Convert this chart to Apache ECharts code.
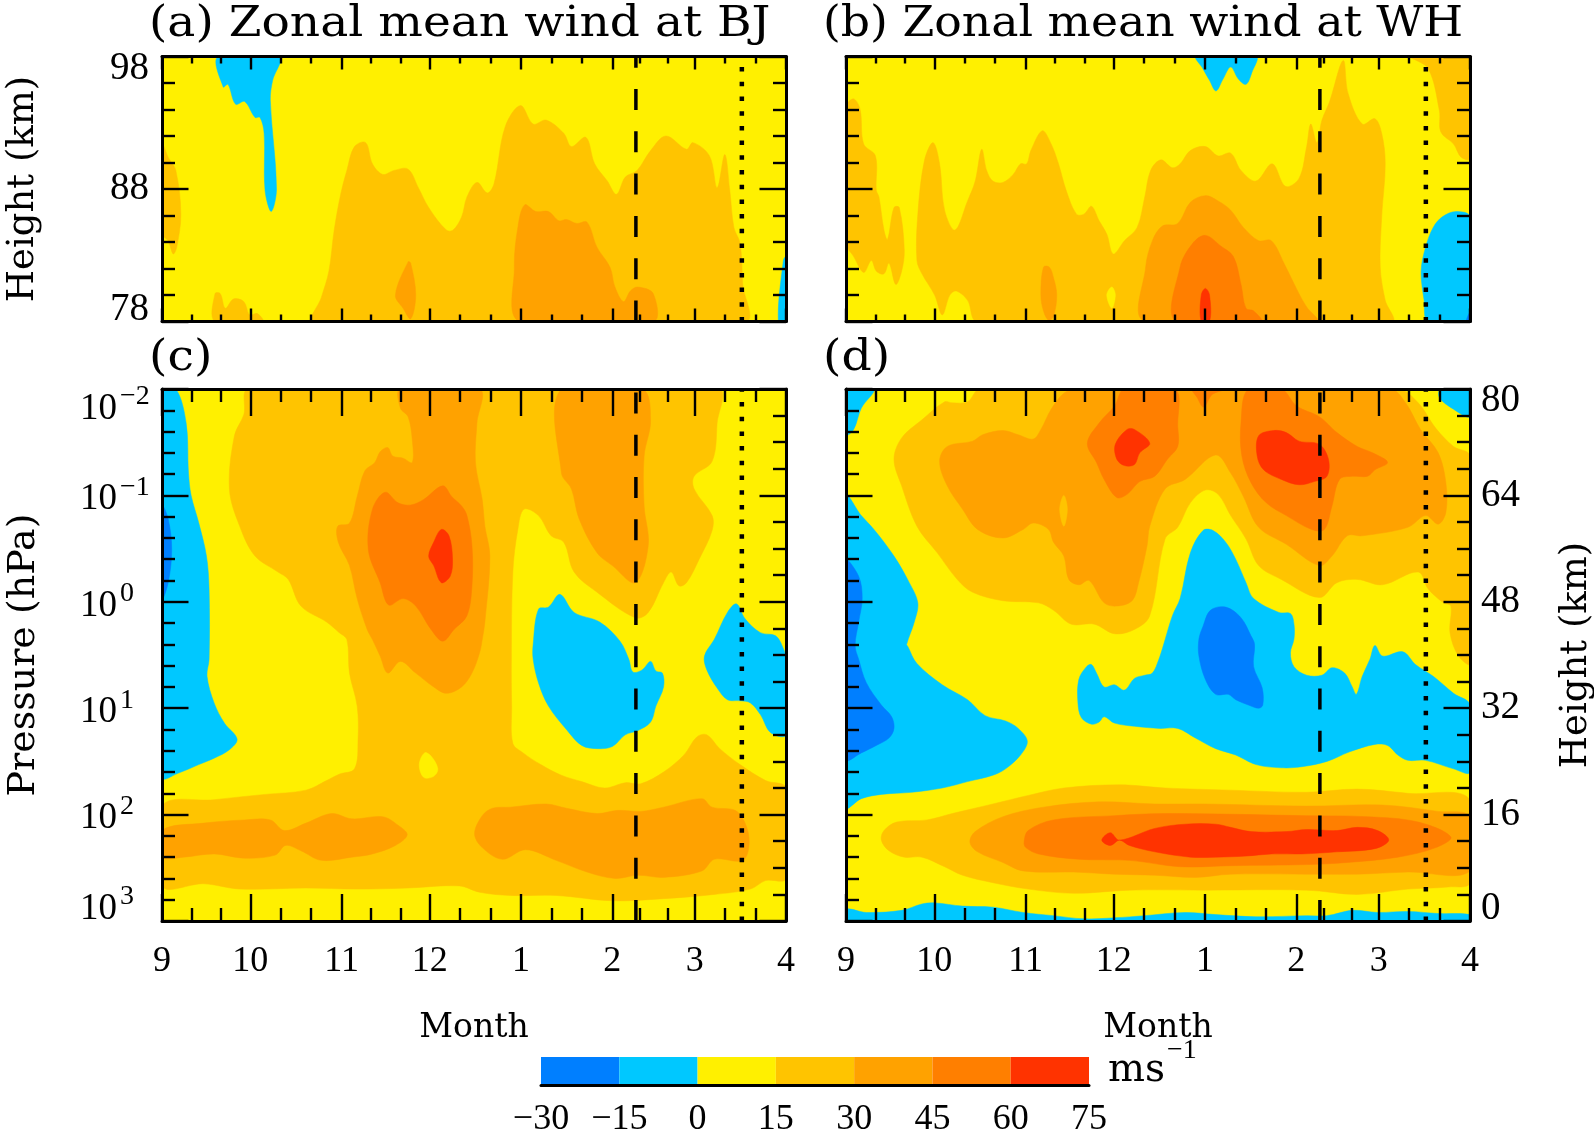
<!DOCTYPE html>
<html><head><meta charset="utf-8">
<script src="https://cdn.jsdelivr.net/npm/echarts@6/dist/echarts.min.js"></script>
<style>html,body{margin:0;padding:0;background:#fff}#chart{width:1594px;height:1132px}</style>
</head><body><div id="chart"></div>
<script>
// ---- scales -------------------------------------------------------------
const monthStartDays = [0,30,61,91,122,153,181,212];
const monthLabels = ['9','10','11','12','1','2','3','4'];
const monthThirdDays = [10,20,40.3,50.7,71,81,101.3,111.7,132.3,142.7,162.3,171.7,191.3,201.7];
const upperHeightMajor = [78,88,98];
const upperHeightMinor = [80,82,84,86,90,92,94,96];
const logPressureMajor = [-2,-1,0,1,2,3];
const logPressureMinor = [-1.8,-1.6,-1.4,-1.2,-0.8,-0.6,-0.4,-0.2,0.2,0.4,0.6,0.8,1.2,1.4,1.6,1.8,2.2,2.4,2.6,2.8];
const lowerHeightMajor = [0,16,32,48,64,80];
const lowerHeightMinor = [4,8,12,20,24,28,36,40,44,52,56,60,68,72,76];
const windLevels = [-30,-15,0,15,30,45,60,75];
const windColors = ['#007FFF','#00C8FF','#FFF000','#FFC400','#FFA200','#FF7F00','#FF3300'];
const dashedDay = 161;
const dottedDay = 197;

// ---- contour outlines of wind bands: [day since 1 Sep, height km] --------
const aBlueTop = [[19.1,98],[20.8,95.7],[22.4,95.9],[25,94.4],[28.1,94.6],[31.6,93.4],[33.3,93.4],[34.7,92.2],[35,87.9],[37.1,86.3],[38.9,88],[36.8,94.7],[37.6,96.2],[39.9,98]];
const aEdge = [[0,91.4],[2.1,90.4],[4.7,89.4],[6.4,86.1],[5,83.6],[3.8,83.1],[2.1,84.1],[0,84.6]];
const aLow = [[18,78],[18,80.1],[19.8,80.1],[21.5,79],[24.3,79.7],[27.8,79.5],[29.8,78.5],[32.4,78.6],[34.2,78]];
const aMain = [[51.5,78],[54.1,79.8],[56.7,81.8],[58.5,84.9],[60.7,87.6],[62.8,89.4],[65.4,91.2],[69.2,91.5],[71.5,89.9],[75,89.1],[78.8,89.4],[83.6,89.5],[87.1,88.1],[90.6,86.6],[96.6,84.9],[98.9,84.9],[101.8,85.9],[103.6,87.4],[107,88.5],[110.5,87.7],[112.8,88.4],[116.6,92.7],[121.8,94.3],[126.1,92.9],[130.5,93.2],[136.5,92.2],[139.1,91.2],[144,91.9],[147,89.9],[151.3,88.6],[154.4,87.6],[157.4,88.9],[161.4,89.4],[166,90.9],[171.2,92],[178.2,91],[180.4,91.5],[186,90.5],[188.6,88.1],[191.2,90.6],[192.9,87.9],[194.3,85.1],[196.4,83.9],[197.3,80.8],[198.1,78]];
const aCore = [[121.5,78],[119.7,82.1],[120.9,85.1],[123.2,86.8],[127,86.3],[131.3,86.3],[134.8,85.6],[137.4,85.7],[140.9,85.4],[144.4,85.5],[147.8,83.6],[152.2,82.1],[153.9,80.6],[156.8,79.5],[159.1,80.3],[161.7,80.6],[166.9,80.1],[166.9,78]];
const aSpot = [[79.3,80],[83.6,82.5],[84.5,82.4],[86.2,80],[84.5,78.2],[81.9,79]];
const aBlueEnd = [[209.4,78],[211.1,82.6],[212,82.9],[212,78]];
const panelA = [[22,aEdge],[22,aLow],[22,aMain],[37,aCore],[37,aSpot],[-7,aBlueTop],[-7,aBlueEnd]];

const bEdge = [[0,94.2],[2.6,94.8],[4.8,94],[6,91.4],[10,90.5],[10.3,87.9],[11.2,87.4],[12.9,84.9],[14.1,84.2],[16.3,86.6],[18.1,86.6],[19.8,83.4],[18.9,81.8],[16.9,80.8],[14.6,82.4],[12.9,81.6],[10.3,81.8],[8.6,82.6],[6,81.7],[2.6,82.9],[0,83.9]];
const bMain = [[44.7,78],[41.3,79.6],[37.5,80.3],[35.3,80],[32.7,78.5],[30.1,80],[25.8,81.6],[24.1,82.6],[24.4,86.1],[26.7,90.2],[29.6,91.5],[31.8,89.9],[33.5,86.4],[37,84.9],[41.3,87.1],[43.9,88.6],[46.1,91],[47.8,89.4],[49.9,88.6],[53.3,88.5],[56.8,89.1],[59.3,89.9],[61.4,89.9],[62.8,90.9],[66.7,92.4],[69.7,91.4],[72.2,89.9],[74.8,87.9],[78.3,86.1],[80.8,86.1],[83.4,86.7],[86,85.6],[88.6,84.6],[90.8,83.1],[94.6,84.1],[98.9,85.1],[101.5,87.4],[103.5,89.4],[107,90.2],[110.9,89.6],[113.5,89.9],[117,90.9],[122.1,91.2],[126.4,90.5],[130.7,90.7],[134.2,89.4],[139.3,88.6],[144.8,89.9],[149.3,88.2],[153.9,88.8],[156.5,91.2],[157.9,92.9],[160,91.5],[161.7,93.2],[164.3,94.6],[168.9,97.7],[170.6,95.2],[175.4,92.9],[179.7,93.3],[182,92.2],[183.2,89.9],[182,85.9],[181.5,82.1],[183.2,79.6],[185.4,78]];
const bIsle = [[90.3,80.6],[91.5,80],[90.3,79],[88.6,80]];
const bSpot = [[66.2,80],[67.1,82.1],[69.1,82.1],[70.5,81.3],[71.6,80],[70.5,78.4],[68.8,78.1],[67.1,78.8]];
const bCore37 = [[101.5,78],[101.8,82.1],[104.1,84.1],[107.5,85.2],[112.7,85.4],[117,87],[122.1,87.5],[126.4,87.1],[130.7,86.4],[135,85.1],[140.2,84.1],[144.5,84.1],[148.8,82.4],[153.9,80.1],[156.5,79.1],[160,78]];
const bCore52 = [[112.1,78],[113.5,82.1],[117.8,83.9],[122.1,84.5],[127.3,83.7],[131.6,82.9],[134.2,80.8],[135.9,79],[138.5,78.8],[141,78]];
const bCore67 = [[120.7,78],[120.7,80],[122.1,80.5],[123.5,80],[123.5,78]];
const bTopRight = [[191.8,98],[197.8,97.1],[201.6,93.9],[202.1,92.3],[206.4,91.4],[209,90.4],[212,90.3],[212,98]];
const bBlueTop = [[119,98],[121.2,97.1],[123.5,96.2],[125.7,95.4],[128.1,96.3],[130.7,97.2],[133.3,96.3],[135.9,95.9],[137.9,96.8],[139.3,98]];
const bBlueRight = [[197.8,78],[196.4,79.6],[195.4,81.8],[196.9,83.6],[199.5,85.1],[202.6,85.9],[207.3,86.3],[212,85.9],[212,78]];
const bDeepEnd = [[210.7,78],[212,78.7],[212,78]];
const panelB = [[22,bEdge],[22,bMain],[7,bIsle],[22,bTopRight],[37,bSpot],[37,bCore37],[52,bCore52],[67,bCore67],[-7,bBlueTop],[-7,bBlueRight],[-22,bDeepEnd]];

// ---- [day since 1 Sep, log10 pressure hPa] -------------------------------
const cBlueLeft = [[4.7,-2],[8.2,-1.68],[9,-1.21],[9.9,-1],[12.5,-0.74],[15.1,-0.43],[16,-0.11],[16,0.54],[15.3,0.7],[17.7,0.95],[21.2,1.14],[25.5,1.29],[22.9,1.39],[17.7,1.47],[12.5,1.53],[5.6,1.61],[0,1.65],[0,-2]];
const cDeepLeft = [[0,-0.9],[2.1,-0.78],[3.3,-0.49],[2.1,-0.18],[0,-0.03]];
const cBand22 = [[29.5,-2],[188.9,-2],[188.6,-1.68],[186.9,-1.32],[180.8,-1.18],[180.8,-1.06],[186.9,-0.81],[186.9,-0.67],[182.5,-0.4],[178.2,-0.18],[175.6,-0.15],[173,-0.28],[170.4,-0.18],[165.2,0.1],[160.8,0.15],[147.8,-0.09],[140,-0.28],[136.5,-0.56],[132.2,-0.62],[127.9,-0.81],[123,-0.87],[120.9,-0.68],[119.2,-0.28],[118.7,0.54],[118.8,0.98],[119.2,1.33],[122.7,1.42],[128.7,1.53],[135.7,1.63],[142.6,1.69],[150.4,1.75],[157.4,1.7],[162.6,1.71],[170.4,1.6],[177.3,1.44],[181.7,1.27],[185.1,1.25],[189.5,1.38],[196.4,1.53],[205.1,1.68],[212,1.75],[212,2.6],[205.1,2.62],[199.9,2.7],[187.7,2.75],[170.4,2.79],[153,2.81],[133.9,2.76],[118.3,2.76],[107.9,2.73],[101,2.67],[83.6,2.69],[66.3,2.7],[48.9,2.69],[26.4,2.7],[14.2,2.65],[0,2.67],[0,1.92],[17.7,1.86],[35,1.81],[48.9,1.77],[55.9,1.68],[60.2,1.62],[65.4,1.57],[66.6,1.3],[66.3,0.98],[63.7,0.67],[62.8,0.355],[60.2,0.29],[55.9,0.19],[47.2,0.04],[42.9,-0.21],[39.4,-0.28],[31.6,-0.43],[26.4,-0.71],[22.9,-1.06],[24.6,-1.56],[27.8,-1.76]];
const cIsle = [[87.4,1.53],[89.2,1.42],[91.4,1.45],[93.7,1.57],[92.3,1.64],[88.9,1.65]];
const cBlueMid = [[126.1,0.4],[127.9,0.07],[131.3,0.05],[135.2,-0.07],[140,0.1],[148.7,0.19],[155.6,0.37],[158.6,0.54],[160,0.66],[163.1,0.64],[166,0.56],[167.8,0.65],[170,0.67],[170.4,0.8],[167.8,0.98],[166,1.13],[161.7,1.21],[157.4,1.25],[153,1.36],[147.8,1.38],[142.6,1.35],[137.4,1.2],[131.3,0.98],[127.9,0.76],[126.1,0.54]];
const cBlueRight = [[184.3,0.51],[187.7,0.35],[192.1,0.1],[195.2,0.02],[198.1,0.16],[203.3,0.29],[208.5,0.32],[211.1,0.44],[212,0.54],[212,1.25],[206.8,1.23],[203.3,1.06],[199.9,0.95],[196.4,0.93],[192.1,0.92],[188.6,0.81],[185.1,0.64]];
const cMid37 = [[81,-2],[81,-1.82],[83.6,-1.74],[85,-1.53],[85,-1.31],[81.9,-1.35],[78.4,-1.37],[76.7,-1.45],[74.1,-1.41],[72.3,-1.31],[68.9,-1.23],[66.3,-0.99],[63.7,-0.74],[59.7,-0.71],[59.9,-0.56],[63.7,-0.34],[66.3,-0.03],[69.7,0.26],[71.5,0.355],[74.1,0.51],[76.7,0.67],[81,0.56],[86.2,0.67],[92.3,0.8],[96.6,0.86],[101.8,0.8],[105.3,0.67],[107.9,0.48],[108.8,0.355],[109.7,0.19],[111.4,-0.43],[109.7,-0.71],[108.8,-0.96],[106.5,-1.31],[107,-1.68],[107.9,-2]];
const cMid52 = [[75.8,-1.03],[80.2,-0.93],[84.5,-0.91],[88.8,-0.96],[95.4,-1.09],[98.4,-0.99],[101.8,-0.9],[103.6,-0.81],[105.3,-0.53],[105.3,-0.15],[103.6,0.13],[99.2,0.26],[95.4,0.37],[91.4,0.26],[86.2,0.04],[81.9,-0.03],[77,0.03],[74.1,-0.18],[70.1,-0.49],[71.5,-0.87]];
const cMid67 = [[94.9,-0.68],[97.5,-0.62],[98.7,-0.4],[97.9,-0.24],[94.9,-0.18],[92.3,-0.34],[90.6,-0.43],[92.3,-0.56]];
const cFeb37 = [[135.7,-2],[135.7,-1.21],[139.1,-1.06],[141.7,-0.78],[147.8,-0.46],[153,-0.34],[160.8,-0.18],[165.2,-0.53],[163.8,-0.9],[163.8,-1.37],[166,-1.71],[163.1,-2]];
const cJetLeft = [[0,2.15],[14.2,2.08],[28.1,2.05],[36.8,2.05],[41.6,2.15],[48.9,2.08],[57.6,1.99],[64.5,2.04],[75,2.02],[80.2,2.1],[83.3,2.19],[79.3,2.29],[71.5,2.37],[64.5,2.4],[54.1,2.43],[47.2,2.34],[42,2.29],[38.5,2.38],[28.1,2.41],[17.7,2.37],[7.3,2.4],[0,2.4]];
const cJetRight = [[106.2,2.18],[108.8,2.01],[112.3,1.94],[118.3,1.93],[130.5,1.9],[137.4,1.94],[147.8,1.99],[154.8,1.96],[162.6,1.97],[170.4,1.93],[183.4,1.85],[186.9,1.93],[194.7,1.96],[198.1,2.08],[199.5,2.27],[197.3,2.43],[187.7,2.42],[183.4,2.53],[170.4,2.59],[161.7,2.57],[153.9,2.6],[144.4,2.54],[133.9,2.43],[123.5,2.33],[115.7,2.42],[108.8,2.31]];
const panelC = [[22,cBand22],[7,cIsle],[-7,cBlueLeft],[-22,cDeepLeft],[-7,cBlueMid],[-7,cBlueRight],[37,cMid37],[52,cMid52],[67,cMid67],[37,cFeb37],[37,cJetLeft],[37,cJetRight]];

const dCornerLeft = [[0,-2],[9.5,-2],[5.2,-1.82],[2.6,-1.62],[0,-1.57]];
const dCornerRight = [[202.1,-2],[201.6,-1.92],[206.4,-1.81],[212,-1.74],[212,-2]];
const dBlueLeft = [[0,-0.99],[5.2,-0.81],[9.5,-0.68],[16.3,-0.43],[21.5,-0.18],[24.4,0.01],[23.2,0.19],[20.6,0.4],[21,0.42],[24.1,0.58],[32.7,0.78],[41.3,0.92],[47.3,1.07],[54.2,1.12],[58.5,1.19],[61.6,1.31],[59.3,1.44],[54.2,1.57],[49.9,1.63],[41.3,1.69],[32.7,1.75],[22.4,1.79],[12,1.81],[5.2,1.85],[0,1.93]];
const dDeepLeft = [[0,-0.38],[4.3,-0.24],[5.5,-0.03],[4.3,0.19],[3.1,0.41],[4.3,0.54],[6.9,0.76],[12,0.97],[15.5,1.08],[16.3,1.19],[14.6,1.28],[10.3,1.35],[5.2,1.42],[0,1.48]];
const dBlueMid = [[121.3,-0.67],[124.7,-0.67],[129,-0.56],[132.4,-0.4],[135.9,-0.18],[138.5,-0.03],[147.1,0.1],[151,0.11],[152.2,0.21],[152.2,0.35],[151,0.48],[152.2,0.61],[156.5,0.69],[161.7,0.69],[165.1,0.62],[169.4,0.67],[172,0.8],[173.4,0.87],[175.4,0.7],[178,0.54],[179.7,0.41],[182.3,0.51],[189.2,0.47],[193.5,0.59],[199.5,0.7],[206.4,0.86],[212,0.97],[212,1.6],[206.4,1.57],[196.9,1.49],[190.9,1.49],[187.5,1.44],[184,1.35],[179.7,1.34],[171.1,1.41],[163.4,1.5],[154.8,1.55],[147.9,1.56],[139.3,1.53],[132.4,1.44],[125.6,1.38],[118.7,1.28],[112.7,1.19],[106.6,1.19],[98,1.17],[91.2,1.14],[87.7,1.08],[86,1.13],[83.4,1.15],[80,1.09],[78.8,0.95],[79.1,0.73],[81.7,0.61],[83.4,0.59],[85.1,0.67],[87.7,0.8],[91.2,0.78],[94.6,0.83],[98,0.72],[101.5,0.69],[104.1,0.67],[106.3,0.54],[107.5,0.44],[110.9,0.13],[113.5,-0.03],[117,-0.46]];
const dDeepMid = [[119.9,0.35],[121.3,0.23],[123.8,0.08],[129,0.05],[134.2,0.15],[137.6,0.32],[138.8,0.4],[138.5,0.61],[141.4,0.81],[141.6,0.97],[140.2,1],[136.7,0.97],[132.4,0.92],[129.9,0.87],[125.6,0.87],[122.1,0.73],[119.9,0.51]];
const dBlueBottom = [[0,2.89],[6.9,2.92],[18.9,2.9],[25.8,2.84],[30.1,2.83],[39.6,2.86],[49.9,2.87],[60.2,2.92],[70.5,2.95],[80.8,2.98],[91.2,2.97],[101.5,2.95],[115.2,2.92],[125.6,2.94],[139.3,2.96],[156.5,2.95],[163.4,2.95],[172,2.9],[180.6,2.92],[190.9,2.91],[201.2,2.93],[212,2.94],[212,3],[0,3]];
const dJet22 = [[12,2.24],[12.9,2.15],[17.2,2.07],[27.5,2.05],[36.1,1.99],[49.9,1.9],[61.9,1.82],[74,1.75],[92.9,1.72],[108.4,1.75],[130.7,1.77],[156.5,1.79],[173.7,1.76],[190.9,1.8],[212,1.86],[212,2.64],[204.7,2.68],[190.9,2.7],[173.7,2.75],[156.5,2.71],[122.1,2.71],[96.3,2.71],[77.4,2.74],[61.9,2.7],[49.9,2.64],[39.6,2.57],[33.5,2.49],[25.8,2.4],[19.8,2.4],[14.6,2.34]];
const dJet37 = [[42.1,2.26],[43.9,2.16],[53.3,2.02],[67.1,1.93],[86,1.88],[104.9,1.9],[122.1,1.9],[156.5,1.92],[182.3,1.91],[201.2,1.97],[212,2.02],[212,2.53],[190.9,2.54],[173.7,2.56],[156.5,2.56],[130.7,2.56],[118.7,2.59],[104.9,2.57],[91.2,2.56],[77.4,2.54],[60.2,2.53],[53.3,2.45],[44.7,2.35]];
const dJet52 = [[60.5,2.26],[61.9,2.15],[70.5,2.05],[91.2,2.01],[108.4,1.99],[156.5,2.01],[177.2,2.02],[194.4,2.07],[205.5,2.21],[200.4,2.31],[187.5,2.4],[170.3,2.45],[156.5,2.47],[130.7,2.48],[113.5,2.49],[96.3,2.43],[79.1,2.42],[65.4,2.37],[61.1,2.31]];
const dJet67 = [[86.9,2.24],[89.8,2.17],[92.9,2.24],[104.9,2.13],[115.2,2.09],[125.6,2.09],[130.7,2.12],[137.6,2.16],[149.6,2.16],[156.5,2.14],[166.8,2.15],[173.7,2.12],[180.6,2.15],[184.4,2.24],[179.7,2.32],[166.8,2.35],[154.8,2.37],[144.5,2.37],[135.9,2.39],[125.6,2.4],[117,2.4],[104.9,2.35],[96.3,2.29],[92.9,2.24],[89.8,2.29]];
const dUp22 = [[45.6,-2],[41.3,-1.88],[36.1,-1.87],[33.5,-1.88],[25.8,-1.71],[18.9,-1.54],[16.3,-1.34],[18.9,-1.09],[24.1,-0.71],[31,-0.46],[37.8,-0.21],[43,-0.09],[53.3,-0.01],[65.4,0.01],[70.5,0.08],[76.5,0.21],[84.3,0.21],[91.2,0.3],[98,0.26],[103.2,0.13],[108.4,-0.59],[112.7,-0.7],[117,-0.93],[122.1,-1.05],[126.4,-1.01],[130.7,-0.81],[135.9,-0.59],[140.2,-0.34],[147.9,-0.21],[160.8,-0.04],[166.8,-0.18],[173.7,-0.21],[182.3,-0.16],[194.4,-0.28],[197.8,-0.12],[203,0.01],[205.5,0.04],[205.2,0.29],[208.1,0.51],[212,0.58],[212,-1.37],[206.4,-1.46],[200.4,-1.63],[194.4,-1.87],[187.5,-2]];
const dSliver = [[74,-1.0],[75.2,-0.87],[74,-0.71],[72.6,-0.87]];
const dUp37 = [[31.8,-1.32],[34.4,-1.46],[43,-1.51],[46.4,-1.57],[53.3,-1.61],[58.5,-1.57],[63.6,-1.53],[66.2,-1.62],[69.7,-1.81],[74,-1.96],[78.3,-2],[184.9,-2],[190.1,-1.87],[195.2,-1.62],[201.2,-1.4],[203.8,-1.12],[203.8,-0.84],[201.2,-0.73],[196.9,-0.81],[190.9,-0.7],[175.4,-0.62],[170.3,-0.62],[165.1,-0.43],[160.8,-0.34],[149.6,-0.54],[140.2,-0.7],[135,-0.99],[130.7,-1.21],[125.6,-1.38],[115.2,-1.15],[108.4,-1.06],[103.2,-0.71],[102.3,-0.53],[99.4,-0.18],[97.2,-0.01],[92,0.04],[87.7,0.01],[82.6,-0.2],[79.1,-0.16],[75.7,-0.21],[74,-0.43],[70.5,-0.56],[68.8,-0.68],[63.6,-0.74],[60.2,-0.68],[53.3,-0.6],[44.7,-0.68],[39.6,-0.87],[34.4,-1.09]];
const dTooth52 = [[117.7,-2],[119.3,-1.92],[121.5,-1.83],[124.5,-1.95],[129.3,-2]];
const dPeakL52 = [[94.6,-2],[91.2,-1.84],[86,-1.68],[82,-1.49],[85.1,-1.31],[87.7,-1.15],[92,-0.98],[95.5,-1.01],[99.8,-1.13],[104.9,-1.18],[109.2,-1.34],[112.7,-1.46],[112.7,-1.65],[111.8,-2]];
const dPeakR52 = [[136.7,-2],[134.2,-1.68],[134.5,-1.37],[137.6,-1.12],[142.8,-0.93],[149.6,-0.81],[158.2,-0.68],[162.5,-0.68],[165.1,-0.9],[167.7,-1.15],[172,-1.18],[177.2,-1.18],[179.7,-1.24],[184,-1.31],[178.9,-1.4],[173.7,-1.46],[166.8,-1.59],[160.8,-1.74],[153.1,-1.84],[147.9,-2]];
const dPeakL67 = [[95.5,-1.62],[98,-1.62],[103.2,-1.49],[99.8,-1.4],[98,-1.29],[94.6,-1.28],[92,-1.34],[91.5,-1.48]];
const dPeakR67 = [[140.2,-1.56],[145.3,-1.61],[149.6,-1.59],[153.9,-1.51],[160.8,-1.48],[163.9,-1.34],[163.4,-1.18],[159.1,-1.13],[153.9,-1.1],[147.9,-1.15],[141.9,-1.24],[139.7,-1.37]];
const panelD = [[22,dUp22],[22,dJet22],[37,dJet37],[52,dJet52],[67,dJet67],[37,dUp37],[22,dSliver],[52,dTooth52],[52,dPeakL52],[52,dPeakR52],[67,dPeakL67],[67,dPeakR67],[-7,dCornerLeft],[-7,dCornerRight],[-7,dBlueLeft],[-22,dDeepLeft],[-7,dBlueMid],[-22,dDeepMid],[-7,dBlueBottom]];

// ---- text -----------------------------------------------------------------
const panelTitles = ['(a) Zonal mean wind at BJ','(b) Zonal mean wind at WH','(c)','(d)'];

// ---- build ----------------------------------------------------------------
const TICK_FONT = '"Liberation Serif"';
const TEXT_FONT = '"DejaVu Serif"';
const black = '#000';
function bandColor(v){ for(let i=0;i<windColors.length;i++){ if(v>=windLevels[i]&&v<windLevels[i+1]) return windColors[i]; } return windColors[2]; }

const grids=[], xAxes=[], yAxes=[], series=[];
function tickAxis(kind, base, pos, vals, len, extra){
  return Object.assign({type:'value', position:pos, gridIndex:base.grid, min:base.min, max:base.max, inverse:!!base.inverse, z:6,
    splitLine:{show:false}, minorTick:{show:false},
    axisLine:{show:false, onZero:false},
    axisTick:{show:true, inside:true, length:len, customValues:vals, lineStyle:{color:black,width:2.4}},
    axisLabel:{show:false, customValues:vals}}, extra||{});
}
function addPanel(cfg){
  const g=grids.length;
  grids.push({left:cfg.left, top:cfg.top, width:cfg.width, height:cfg.height, show:true, backgroundColor:bandColor(7), borderWidth:0, outerBoundsMode:'none'});
  const xb={grid:g,min:0,max:212};
  const xLine={show:true,onZero:false,lineStyle:{color:black,width:3}};
  const xi=xAxes.length;
  xAxes.push(tickAxis('x',xb,'bottom',monthStartDays,cfg.xMajor,{
    axisLine:xLine,
    axisLabel:cfg.xLabels?{show:true,customValues:monthStartDays,margin:23,fontFamily:TICK_FONT,fontSize:36,color:black,
      formatter:v=>monthLabels[monthStartDays.indexOf(v)],hideOverlap:false}:{show:false,customValues:monthStartDays},
    name:cfg.xLabels?'Month':'',nameLocation:'middle',nameGap:91,nameTextStyle:{fontFamily:TEXT_FONT,fontSize:33,color:black}
  }));
  xAxes.push(tickAxis('x',xb,'bottom',monthThirdDays,cfg.xMinor));
  xAxes.push(tickAxis('x',xb,'top',monthStartDays,cfg.xMajor,{axisLine:xLine}));
  xAxes.push(tickAxis('x',xb,'top',monthThirdDays,cfg.xMinor));
  const yl={grid:g,min:cfg.yMin,max:cfg.yMax,inverse:cfg.inverse};
  const yr={grid:g,min:cfg.rMin,max:cfg.rMax};
  const yi=yAxes.length;
  yAxes.push(tickAxis('y',yl,'left',cfg.yMajor,26.5,Object.assign({axisLine:xLine},cfg.leftExtra||{})));
  yAxes.push(tickAxis('y',yl,'left',cfg.yMinorVals,13));
  yAxes.push(tickAxis('y',yr,'right',cfg.rMajor,26.5,Object.assign({axisLine:xLine},cfg.rightExtra||{})));
  yAxes.push(tickAxis('y',yr,'right',cfg.rMinorVals,13));
  series.push({type:'custom',xAxisIndex:xi,yAxisIndex:yi,silent:true,animation:false,clip:true,z:2,
    data:cfg.bands.map((b,i)=>[i]),encode:{x:-1,y:-1},
    renderItem:function(p,api){
      const b=cfg.bands[p.dataIndex];
      return {type:'polygon',shape:{points:b[1].map(q=>api.coord(q)),smooth:0.35},style:{fill:bandColor(b[0]),stroke:bandColor(b[0]),lineWidth:0.5}};
    }});
  [[dashedDay,[21,21.3],3.5],[dottedDay,[4.5,10.2],4.5]].forEach(d=>{
    series.push({type:'line',xAxisIndex:xi,yAxisIndex:yi,silent:true,animation:false,symbol:'none',z:8,
      data:[[d[0],cfg.inverse?cfg.yMax:cfg.yMin],[d[0],cfg.inverse?cfg.yMin:cfg.yMax]],
      lineStyle:{color:black,width:d[2],type:d[1],cap:'butt'}});
  });
}
function sup(v){ return String(v).replace('-','\u2212'); }
const upperLabels={show:true,customValues:upperHeightMajor,margin:13,fontFamily:TICK_FONT,fontSize:39,lineHeight:24,color:black,
  verticalAlignMinLabel:'bottom',verticalAlignMaxLabel:'top'};
const nameStyle={fontFamily:TEXT_FONT,fontSize:38,color:black};
const upperCommon={width:624,height:265,top:56.5,xMajor:13,xMinor:7,yMin:78,yMax:98,rMin:78,rMax:98,
  yMajor:upperHeightMajor,yMinorVals:upperHeightMinor,rMajor:upperHeightMajor,rMinorVals:upperHeightMinor};
const lowerCommon={width:624,height:532,top:389,xMajor:27,xMinor:13,yMin:-2,yMax:3,inverse:true,rMin:0,rMax:80,xLabels:true,
  yMajor:logPressureMajor,yMinorVals:logPressureMinor,rMajor:lowerHeightMajor,rMinorVals:lowerHeightMinor};
addPanel(Object.assign({},upperCommon,{left:162,bands:panelA,leftExtra:{
  axisLabel:upperLabels,name:'Height (km)',nameLocation:'middle',nameGap:120,nameRotate:90,
  nameTextStyle:Object.assign({},nameStyle,{fontSize:37})}}));
addPanel(Object.assign({},upperCommon,{left:846,bands:panelB}));
addPanel(Object.assign({},lowerCommon,{left:162,bands:panelC,leftExtra:{
  axisLabel:{show:true,customValues:logPressureMajor,margin:82,align:'left',verticalAlignMinLabel:'top',verticalAlignMaxLabel:'bottom',
    formatter:v=>'{b|10}{s|'+sup(v)+'}',
    rich:{b:{fontFamily:TICK_FONT,fontSize:37,height:24,lineHeight:32,color:black,verticalAlign:'bottom'},
          s:{fontFamily:TICK_FONT,fontSize:28,height:16,lineHeight:16,color:black,verticalAlign:'top',padding:[0,0,0,3]}}},
  name:'Pressure (hPa)',nameLocation:'middle',nameGap:119,nameRotate:90,nameTextStyle:nameStyle}}));
addPanel(Object.assign({},lowerCommon,{left:846,bands:panelD,rightExtra:{
  axisLabel:{show:true,customValues:lowerHeightMajor,margin:11,align:'left',fontFamily:TICK_FONT,fontSize:39,lineHeight:24,color:black,
    verticalAlignMinLabel:'bottom',verticalAlignMaxLabel:'top'},
  name:'Height (km)',nameLocation:'middle',nameGap:88,nameRotate:90,nameTextStyle:Object.assign({},nameStyle,{fontSize:37})}}));

// colour bar
const cbGrid=grids.length;
grids.push({left:541,top:1057,width:548,height:28,outerBoundsMode:'none'});
const cbX=xAxes.length, cbY=yAxes.length;
xAxes.push({type:'value',gridIndex:cbGrid,min:-30,max:75,interval:15,position:'bottom',z:6,splitLine:{show:false},
  axisLine:{show:true,onZero:false,lineStyle:{color:black,width:3}},axisTick:{show:false},
  axisLabel:{show:true,margin:17,fontFamily:TICK_FONT,fontSize:36,color:black,formatter:v=>sup(v),showMinLabel:true,showMaxLabel:true}});
yAxes.push({type:'value',gridIndex:cbGrid,min:0,max:1,show:false});
series.push({type:'custom',xAxisIndex:cbX,yAxisIndex:cbY,silent:true,animation:false,z:2,
  data:windColors.map((c,i)=>[windLevels[i],windLevels[i+1]]),encode:{x:[0,1]},
  renderItem:function(p,api){
    const a=api.coord([api.value(0),1]), b=api.coord([api.value(1),0]);
    return {type:'rect',shape:{x:a[0],y:a[1],width:b[0]-a[0],height:b[1]-a[1]},style:{fill:windColors[p.dataIndex]}};
  }});

const titleFont='43px "DejaVu Serif"';
const titleEl=(text,x,y,sx)=>({type:'text',x:x,y:y,scaleX:sx,silent:true,style:{text:text,font:titleFont,fill:black}});
const option={
  backgroundColor:'#fff',animation:false,
  title:[
    {text:'{m|ms}{e|\u22121}',left:1108,top:1043,padding:0,textStyle:{fontWeight:'normal',rich:{
      m:{fontFamily:TEXT_FONT,fontSize:39,height:24,lineHeight:40,color:black,verticalAlign:'bottom',fontWeight:'normal'},
      e:{fontFamily:TICK_FONT,fontSize:28,height:16,lineHeight:16,color:black,verticalAlign:'top',padding:[0,0,0,2],fontWeight:'normal'}}}}
  ],
  graphic:{elements:[
    titleEl(panelTitles[0],149,3,1.095),
    titleEl(panelTitles[1],823,3,1.063),
    titleEl(panelTitles[2],149,337,1.1),
    titleEl(panelTitles[3],823,337,1.1)
  ]},
  grid:grids,xAxis:xAxes,yAxis:yAxes,series:series
};
const chart=echarts.init(document.getElementById('chart'),null,{renderer:'canvas',width:1594,height:1132});
chart.setOption(option);
</script></body></html>
